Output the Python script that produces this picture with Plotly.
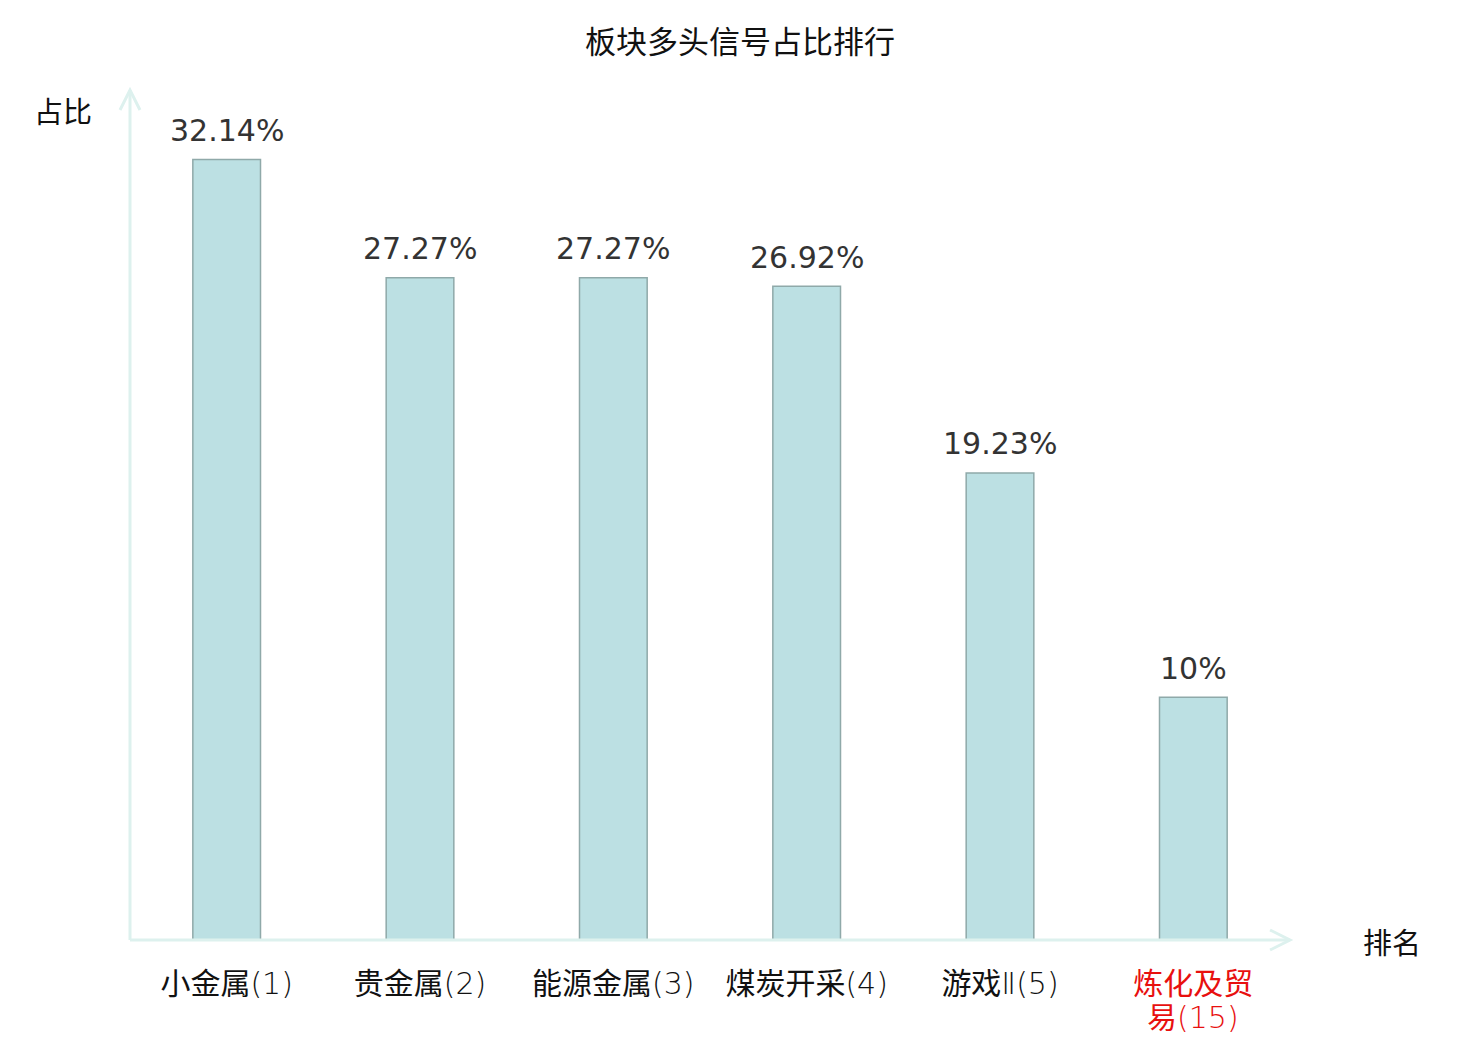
import plotly.graph_objects as go

# sector ranking of long-signal share
categories = ["小金属(1)", "贵金属(2)", "能源金属(3)", "煤炭开采(4)", "游戏Ⅱ(5)", "炼化及贸易(15)"]
names = ["小金属", "贵金属", "能源金属", "煤炭开采", "游戏", "炼化及贸"]
suffixes = ["(1)", "(2)", "(3)", "(4)", "Ⅱ(5)", ""]
share_pct = [32.14, 27.27, 27.27, 26.92, 19.23, 10]
wrapped_line = "易"   # second line of the last, wrapped label
wrapped_suffix = "(15)"

AXIS_COLOR = "#DDF1EE"
RED = "#E8100F"
CJK = "Noto Sans CJK SC, DejaVu Sans, sans-serif"
THIN = "font-family:DejaVu Sans;font-weight:200"

tick_labels = [f"{n}<span style='{THIN}'>{s}</span>" if s else n for n, s in zip(names, suffixes)]
tick_labels[-1] = f"<span style='color:{RED}'>{tick_labels[-1]}</span>"

fig = go.Figure()
fig.add_trace(go.Bar(
    x=categories,
    y=share_pct,
    marker=dict(color="#BCE0E3", line=dict(color="#8FA9A9", width=1.5)),
    width=0.35,
))

# value labels above the bars
for cat, v in zip(categories, share_pct):
    fig.add_annotation(x=cat, y=v, text=f"{v:g}%", showarrow=False, yanchor="middle",
                       yshift=29, font=dict(family="DejaVu Sans, " + CJK, size=30, color="#333333"))

# second line of the wrapped last category label (tighter line spacing than <br>)
fig.add_annotation(x=categories[-1], xref="x", y=0, yref="paper", yshift=-75, yanchor="middle",
                   text=f"{wrapped_line}<span style='{THIN}'>{wrapped_suffix}</span>",
                   showarrow=False, font=dict(family=CJK, size=30, color=RED))

fig.update_layout(
    width=1480, height=1040,
    margin=dict(l=122, r=198, t=82, b=108, autoexpand=False),
    plot_bgcolor="white", paper_bgcolor="white",
    showlegend=False,
    title=dict(text="板块多头信号占比排行", x=0.4946, xanchor="center", y=0.967, yanchor="middle",
               font=dict(family=CJK, size=31, color="#111111")),
    xaxis=dict(tickmode="array", tickvals=categories, ticktext=tick_labels,
               tickfont=dict(family=CJK, size=30, color="#111111"), ticklabelstandoff=23,
               automargin=False,
               showgrid=False, zeroline=False, showline=False, ticks="", ticklen=0),
    yaxis=dict(range=[0, 35], showticklabels=False, showgrid=False, zeroline=False,
               showline=False, ticks="", automargin=False),
)

# axis lines with open arrowheads
line_style = dict(color=AXIS_COLOR, width=3)
fig.add_shape(type="line", xref="paper", yref="paper", x0=0, y0=0, x1=0, y1=1.0, line=line_style)
fig.add_shape(type="line", xref="paper", yref="paper", x0=0, y0=0, x1=1.0, y1=0, line=line_style)
fig.add_shape(type="path", xref="paper", yref="paper",
              path="M -0.0086 0.9765 L 0 1.0 L 0.0086 0.9765", line=line_style)
fig.add_shape(type="path", xref="paper", yref="paper",
              path="M 0.9828 0.0118 L 1.0 0 L 0.9828 -0.0118", line=line_style)

fig.add_annotation(text="占比", xref="paper", yref="paper", x=-0.0578, y=0.976, xanchor="center",
                   yanchor="middle", showarrow=False, font=dict(family=CJK, size=29, color="#111111"))
fig.add_annotation(text="排名", xref="paper", yref="paper", x=1.088, y=-0.001, xanchor="center",
                   yanchor="middle", showarrow=False, font=dict(family=CJK, size=29, color="#111111"))

fig.write_html("out.html")
